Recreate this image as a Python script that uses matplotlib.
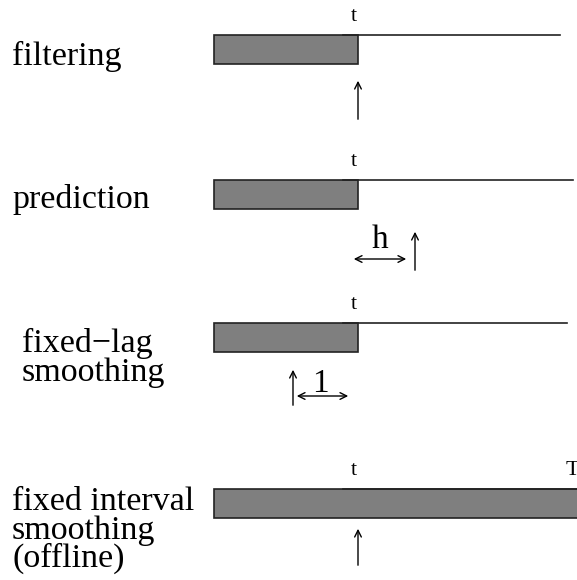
import matplotlib.pyplot as plt
from matplotlib.patches import Rectangle

# panel labels (one list of lines per panel) and their left/baseline positions
labels = [["filtering"], ["prediction"], ["fixed\u2212lag", "smoothing"],
          ["fixed interval", "smoothing", "(offline)"]]
label_x = [12, 12, 22, 12]
label_y = [65, 208, 352, 510]

# shaded bar per panel: left, right, top (pixel coords)
bar_left = [214, 214, 214, 214]
bar_right = [358, 358, 358, 580]
bar_top = [35, 180, 323, 489]
bar_h = 29
# thin line continuing from the bar
line_end = [560, 573, 567, 577]
t_pos = 358

fig = plt.figure(figsize=(5.77, 5.80), dpi=100)
ax = fig.add_axes([0, 0, 1, 1])
ax.set_xlim(0, 577)
ax.set_ylim(580, 0)
ax.axis('off')

serif = 'Liberation Serif'
for i in range(4):
    for k, s in enumerate(labels[i]):
        ax.text(label_x[i], label_y[i] + k * 28.5, s, fontsize=24.5, family=serif,
                va='baseline', ha='left')
    ax.add_patch(Rectangle((bar_left[i], bar_top[i]), bar_right[i] - bar_left[i], bar_h,
                           facecolor='#7f7f7f', edgecolor='#222222', lw=1.2))
    ax.plot([t_pos - 15, line_end[i]], [bar_top[i], bar_top[i]], color='#222222', lw=1.2)
    ax.text(t_pos - 4, bar_top[i] - 14, 't', fontsize=16, family=serif, ha='center', va='baseline')

ax.text(572, bar_top[3] - 14, 'T', fontsize=16, family=serif, ha='center', va='baseline')

def up_arrow(x, y0, y1):
    ax.annotate('', xy=(x, y1), xytext=(x, y0),
                arrowprops=dict(arrowstyle='->', color='black', lw=1.0, mutation_scale=12))

def both_arrow(x0, x1, y):
    ax.annotate('', xy=(x1, y), xytext=(x0, y),
                arrowprops=dict(arrowstyle='<->', color='black', lw=1.0, mutation_scale=12))

# filtering
up_arrow(358, 122, 78)
# prediction
both_arrow(351, 409, 259)
up_arrow(415, 273, 229)
ax.text(380, 248, 'h', fontsize=24, family=serif, ha='center', va='baseline')
# fixed-lag
up_arrow(293, 408, 367)
both_arrow(294, 351, 396)
ax.text(320, 392, '1', fontsize=24, family=serif, ha='center', va='baseline')
# fixed interval
up_arrow(358, 568, 526)

fig.savefig('out.png')
